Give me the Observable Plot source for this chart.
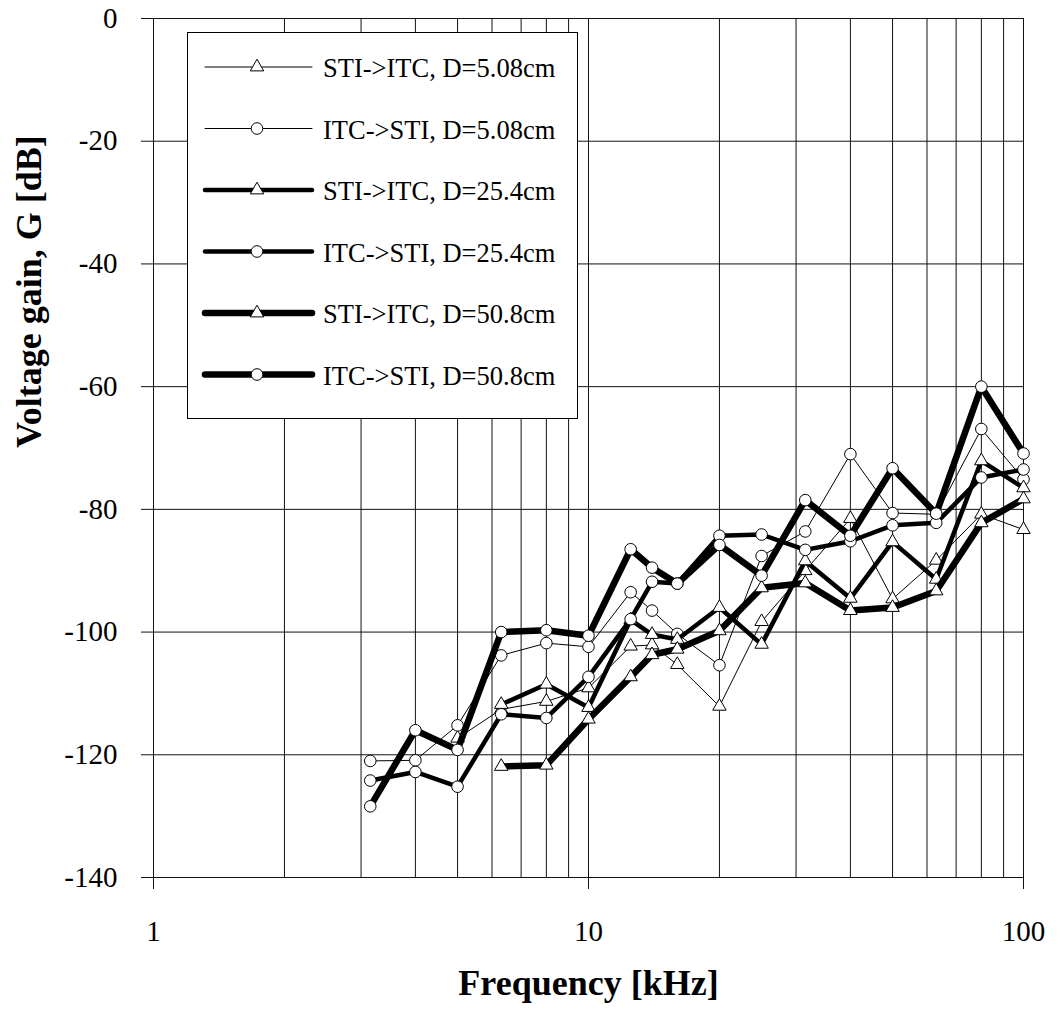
<!DOCTYPE html>
<html>
<head>
<meta charset="utf-8">
<script src="https://cdn.jsdelivr.net/npm/d3@7"></script>
<script src="https://cdn.jsdelivr.net/npm/@observablehq/plot@0.6"></script>
<style>
  body { margin: 0; background: white; }
  #wrap { position: relative; width: 1061px; height: 1013px; }
  #legend { position: absolute; left: 187px; top: 32px; }
</style>
</head>
<body>
<div id="wrap"></div>
<script>
// ---- Data ----
const freqKHz = [3.15, 4, 5, 6.3, 8, 10, 12.5, 14, 16, 20, 25, 31.5, 40, 50, 63, 80, 100];

const stiItc508 = [null, null, -117.3, -112.6, -111.3, -109.1, -102.3, -102.1, -105.3, -112.1, -98.3, -90.0, -81.5, -94.6, -88.3, -80.8, -83.3];
const itcSti508 = [-121.0, -120.9, -115.2, -103.8, -101.8, -102.4, -93.5, -96.5, -100.3, -105.4, -87.6, -83.6, -71.0, -80.6, -80.8, -66.9, -75.1];
const stiItc254 = [null, null, null, -111.8, -108.5, -112.3, -98.0, -100.4, -101.2, -96.0, -102.0, -88.4, -94.5, -85.3, -91.4, -72.1, -76.5];
const itcSti254 = [-124.2, -122.8, -125.2, -113.4, -114.0, -107.3, -97.9, -91.8, -92.1, -84.3, -84.1, -86.6, -85.2, -82.6, -82.2, -74.8, -73.5];
const stiItc508b = [null, null, null, -121.9, -121.7, -114.2, -107.3, -103.7, -102.8, -99.8, -92.8, -92.0, -96.5, -96.0, -93.3, -82.2, -78.3];
const itcSti508b = [-128.4, -116.0, -119.2, -100.0, -99.7, -100.6, -86.5, -89.5, -92.1, -85.8, -90.8, -78.5, -84.3, -73.3, -80.7, -60.0, -70.9];

const seriesNames = [
  "STI->ITC, D=5.08cm",
  "ITC->STI, D=5.08cm",
  "STI->ITC, D=25.4cm",
  "ITC->STI, D=25.4cm",
  "STI->ITC, D=50.8cm",
  "ITC->STI, D=50.8cm"
];
const seriesValues = [stiItc508, itcSti508, stiItc254, itcSti254, stiItc508b, itcSti508b];

const xTicks = [1, 10, 100];
const yTicks = [0, -20, -40, -60, -80, -100, -120, -140];
const xGrid = [1,2,3,4,5,6,7,8,9,10,20,30,40,50,60,70,80,90,100];

// ---- Styles ----
const styles = [
  {symbol: "triangle", width: 1},
  {symbol: "circle", width: 1},
  {symbol: "triangle", width: 4.5},
  {symbol: "circle", width: 4.5},
  {symbol: "triangle", width: 6.5},
  {symbol: "circle", width: 6.5}
];

const series = seriesNames.map((name, i) => ({
  name,
  ...styles[i],
  data: freqKHz.map((f, j) => ({f, g: seriesValues[i][j]})).filter(d => d.g != null)
}));

const serif = "Liberation Serif, Times New Roman, serif";

const marks = [
  Plot.gridX(xGrid, {stroke: "#111", strokeOpacity: 1, strokeWidth: 1}),
  Plot.gridY(yTicks, {stroke: "#111", strokeOpacity: 1, strokeWidth: 1}),
  Plot.axisX(xTicks, {tickSize: 12, tickPadding: 31, tickFormat: d => String(d), fontSize: 29, label: null, stroke: "#111"}),
  Plot.axisY(yTicks, {tickSize: 12, tickPadding: 24, tickFormat: d => String(d), fontSize: 29, label: null, stroke: "#111"}),
  Plot.text(["Frequency [kHz]"], {frameAnchor: "bottom", dy: 117, fontSize: 36, fontWeight: "bold", fill: "black"}),
  Plot.text(["Voltage gain, G [dB]"], {frameAnchor: "left", dx: -124, rotate: -90, fontSize: 36, fontWeight: "bold", fill: "black"})
];

for (const s of series) {
  marks.push(Plot.line(s.data, {x: "f", y: "g", stroke: "black", strokeWidth: s.width, strokeLinejoin: "round", strokeLinecap: "round"}));
  marks.push(Plot.dot(s.data, {x: "f", y: "g", symbol: s.symbol, r: s.symbol === "circle" ? 5.8 : 5, fill: "white", stroke: "black", strokeWidth: 1}));
}

const chart = Plot.plot({
  width: 1061,
  height: 1013,
  marginLeft: 153,
  marginRight: 38,
  marginTop: 18,
  marginBottom: 136,
  x: {type: "log", domain: [1, 100]},
  y: {domain: [-140, 0]},
  style: {fontFamily: serif, fontSize: "29px", color: "black", background: "white"},
  marks
});

const wrap = document.getElementById("wrap");
wrap.appendChild(chart);

// ---- Legend (overlay inside the plot area, as in the reference) ----
const lw = 390, lh = 386;
const legend = d3.create("svg")
  .attr("id", "legend")
  .attr("width", lw + 2)
  .attr("height", lh + 2)
  .style("font-family", serif);
legend.append("rect")
  .attr("x", 0.5).attr("y", 0.5).attr("width", lw).attr("height", lh)
  .attr("fill", "white").attr("stroke", "black").attr("stroke-width", 1);
series.forEach((s, i) => {
  const y = 35 + i * 61.5;
  const g = legend.append("g").attr("transform", `translate(0,${y})`);
  g.append("line").attr("x1", 18).attr("x2", 125).attr("y1", 0).attr("y2", 0)
    .attr("stroke", "black").attr("stroke-width", s.width).attr("stroke-linecap", "round");
  if (s.symbol === "circle") {
    g.append("circle").attr("cx", 70).attr("cy", 0).attr("r", 5.8)
      .attr("fill", "white").attr("stroke", "black");
  } else {
    g.append("path").attr("transform", "translate(70,0)")
      .attr("d", d3.symbol(d3.symbolTriangle, Math.PI * 5 * 5)())
      .attr("fill", "white").attr("stroke", "black");
  }
  g.append("text").attr("x", 136).attr("y", 10).attr("font-size", 26.5).attr("fill", "black").text(s.name);
});
wrap.appendChild(legend.node());
</script>
</body>
</html>
